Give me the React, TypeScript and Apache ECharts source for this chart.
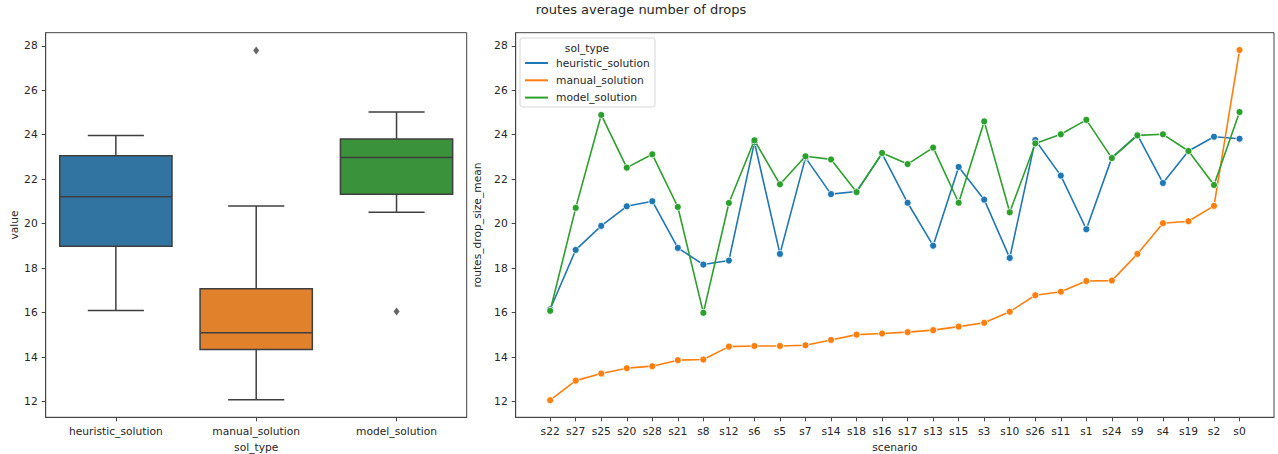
import React, { useEffect, useRef } from "react";
import * as echarts from "echarts";

// ---------- data ----------
const solTypes = ["heuristic_solution", "manual_solution", "model_solution"];
const boxFill = ["#3274a1", "#e1812c", "#3a923a"];
const lineColors = ["#1f77b4", "#ff7f0e", "#2ca02c"];

// box stats: [low whisker, Q1, median, Q3, high whisker]
const heuristicBox = [16.09, 18.98, 21.21, 23.06, 23.97];
const manualBox = [12.08, 14.34, 15.09, 17.07, 20.8];
const modelBox = [20.51, 21.32, 22.98, 23.81, 25.02];
const outlierCats = [1, 2];
const outlierValues = [27.79, 16.05];

const scenarios = [
  "s22", "s27", "s25", "s20", "s28", "s21", "s8", "s12", "s6", "s5", "s7", "s14", "s18",
  "s16", "s17", "s13", "s15", "s3", "s10", "s26", "s11", "s1", "s24", "s9", "s4", "s19", "s2", "s0",
];

const heuristicValues = [
  16.15, 18.82, 19.9, 20.78, 21.01, 18.91, 18.16, 18.34, 23.66, 18.64, 22.97, 21.33, 21.45,
  23.15, 20.94, 19.01, 22.55, 21.08, 18.46, 23.76, 22.16, 19.75, 22.97, 23.99, 21.83, 23.27, 23.91, 23.82,
];
const manualValues = [
  12.06, 12.94, 13.26, 13.5, 13.59, 13.86, 13.89, 14.47, 14.5, 14.5, 14.53, 14.77, 15.01,
  15.06, 15.12, 15.21, 15.37, 15.54, 16.04, 16.78, 16.94, 17.42, 17.44, 18.64, 20.02, 20.11, 20.8, 27.81,
];
const modelValues = [
  16.08, 20.71, 24.89, 22.52, 23.12, 20.75, 15.99, 20.93, 23.75, 21.77, 23.03, 22.89, 21.42,
  23.18, 22.68, 23.42, 20.94, 24.6, 20.51, 23.61, 24.02, 24.67, 22.95, 23.97, 24.02, 23.27, 21.74, 25.02,
];

const yTicks = [12, 14, 16, 18, 20, 22, 24, 26, 28];

const FONT = "DejaVu Sans";
const TXT = "#262626";
const GRAY = "#3f3f3f";
const SPINE = "#444";

export default function App() {
  const ref = useRef<HTMLDivElement>(null);
  useEffect(() => {
    document.body.style.margin = "0";
    if (!ref.current) return;
    const chart = echarts.init(ref.current, undefined, { renderer: "svg" });
    const n = scenarios.length;
    const xIdx = scenarios.map((_, i) => i);
    const boxes = [heuristicBox, manualBox, modelBox];
    const lineSeries = [heuristicValues, manualValues, modelValues].map((vals, k) => ({
      type: "line",
      name: solTypes[k],
      xAxisIndex: 1,
      yAxisIndex: 1,
      data: vals.map((v, i) => [i, v]),
      symbol: "circle",
      symbolSize: 7,
      showSymbol: true,
      lineStyle: { color: lineColors[k], width: 1.6 },
      itemStyle: { color: lineColors[k], borderColor: "#ffffff", borderWidth: 0.8 },
      z: 2 + k,
    }));
    const axisLbl = { fontFamily: FONT, fontSize: 10.7, color: TXT };
    const option: any = {
      animation: false,
      backgroundColor: "#ffffff",
      textStyle: { fontFamily: FONT },
      title: {
        text: "routes average number of drops",
        left: 641,
        textAlign: "center",
        top: 3,
        padding: 0,
        textStyle: { fontFamily: FONT, fontSize: 13, fontWeight: "normal", color: TXT },
      },
      grid: [
        { left: 45.7, top: 32.7, width: 421, height: 384.6, outerBoundsMode: "none", containLabel: false, show: true, borderColor: SPINE, borderWidth: 1, backgroundColor: "transparent" },
        { left: 515.7, top: 32.7, width: 758.3, height: 384.6, outerBoundsMode: "none", containLabel: false, show: true, borderColor: SPINE, borderWidth: 1, backgroundColor: "transparent" },
      ],
      legend: {
        data: solTypes,
        orient: "vertical",
        left: 525,
        top: 56,
        padding: 0,
        itemGap: 3.3,
        itemWidth: 23,
        itemHeight: 2,
        icon: "rect",
        itemStyle: { borderWidth: 0 },
        textStyle: { fontFamily: FONT, fontSize: 10.7, color: TXT, lineHeight: 14, padding: [0, 0, 0, 3] },
        z: 10,
      },
      graphic: [
        {
          type: "rect",
          shape: { x: 520, y: 38, width: 135, height: 69, r: 2.5 },
          style: { fill: "rgba(255,255,255,0.8)", stroke: "#d6d6d6", lineWidth: 1 },
          z: 9,
        },
        {
          type: "text",
          x: 587,
          y: 48,
          style: { text: "sol_type", fontFamily: FONT, fontSize: 10.7, fill: TXT, align: "center", verticalAlign: "middle" },
          z: 11,
        },
      ],
      xAxis: [
        {
          type: "category",
          gridIndex: 0,
          data: solTypes,
          boundaryGap: true,
          name: "sol_type",
          nameLocation: "middle",
          nameGap: 20.5,
          nameTextStyle: { ...axisLbl },
          axisLine: { show: true, onZero: false, lineStyle: { color: SPINE, width: 1 } },
          axisTick: { show: true, alignWithLabel: true, length: 4, lineStyle: { color: SPINE } },
          axisLabel: { ...axisLbl, margin: 8.5 },
          splitLine: { show: false },
        },
        {
          type: "value",
          gridIndex: 1,
          min: -1.35,
          max: n - 1 + 1.35,
          name: "scenario",
          nameLocation: "middle",
          nameGap: 20.5,
          nameTextStyle: { ...axisLbl },
          axisLine: { show: true, onZero: false, lineStyle: { color: SPINE, width: 1 } },
          axisTick: { show: true, length: 4, customValues: xIdx, lineStyle: { color: SPINE } },
          axisLabel: {
            ...axisLbl,
            margin: 8.5,
            customValues: xIdx,
            formatter: (v: number) => scenarios[Math.round(v)] ?? "",
          },
          splitLine: { show: false },
        },
      ],
      yAxis: [0, 1].map((g) => ({
        type: "value",
        gridIndex: g,
        min: 11.29,
        max: 28.59,
        name: g === 0 ? "value" : "routes_drop_size_mean",
        nameLocation: "middle",
        nameGap: g === 0 ? 26 : 24,
        nameTextStyle: { ...axisLbl },
        axisLine: { show: true, onZero: false, lineStyle: { color: SPINE, width: 1 } },
        axisTick: { show: true, length: 4, customValues: yTicks, lineStyle: { color: SPINE } },
        axisLabel: { ...axisLbl, margin: 8, customValues: yTicks, formatter: (v: number) => String(v) },
        splitLine: { show: false },
      })),
      series: [
        {
          type: "custom",
          xAxisIndex: 0,
          yAxisIndex: 0,
          data: boxes.map((b, i) => [i, ...b]),
          encode: { x: 0, y: [1, 2, 3, 4, 5] },
          renderItem: (params: any, api: any) => {
            const x = api.value(0);
            const low = api.coord([x, api.value(1)]);
            const q1 = api.coord([x, api.value(2)]);
            const med = api.coord([x, api.value(3)]);
            const q3 = api.coord([x, api.value(4)]);
            const high = api.coord([x, api.value(5)]);
            const bw = api.size([1, 0])[0] * 0.8;
            const cw = bw / 2;
            const cx = q1[0];
            const st = { stroke: GRAY, lineWidth: 1.5 };
            return {
              type: "group",
              children: [
                { type: "line", shape: { x1: cx, y1: q1[1], x2: cx, y2: low[1] }, style: st },
                { type: "line", shape: { x1: cx, y1: q3[1], x2: cx, y2: high[1] }, style: st },
                { type: "line", shape: { x1: cx - cw / 2, y1: low[1], x2: cx + cw / 2, y2: low[1] }, style: st },
                { type: "line", shape: { x1: cx - cw / 2, y1: high[1], x2: cx + cw / 2, y2: high[1] }, style: st },
                {
                  type: "rect",
                  shape: { x: cx - bw / 2, y: q3[1], width: bw, height: q1[1] - q3[1] },
                  style: { fill: boxFill[params.dataIndex], stroke: GRAY, lineWidth: 1.5 },
                },
                { type: "line", shape: { x1: cx - bw / 2, y1: med[1], x2: cx + bw / 2, y2: med[1] }, style: st },
              ],
            };
          },
          z: 2,
        },
        {
          type: "scatter",
          xAxisIndex: 0,
          yAxisIndex: 0,
          data: outlierCats.map((c, i) => [c, outlierValues[i]]),
          symbol: "diamond",
          symbolSize: [6, 8],
          itemStyle: { color: GRAY },
          z: 3,
        },
        ...lineSeries,
      ],
    };
    chart.setOption(option);
    return () => chart.dispose();
  }, []);
  return <div ref={ref} style={{ width: 1278, height: 454 }} />;
}
